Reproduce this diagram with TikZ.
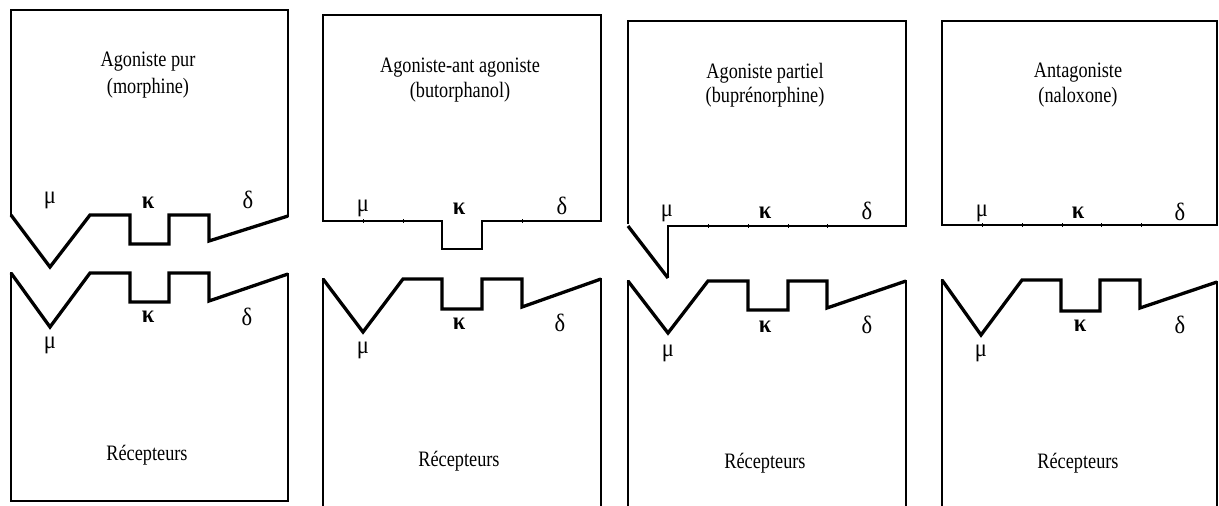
\documentclass[tikz,border=0pt]{standalone}
\usepackage{fontspec}
\setmainfont{Liberation Serif}
\usepackage{graphicx}
\newcommand{\condtxt}[1]{\scalebox{0.83}[1]{#1}}
\newcommand{\condgrk}[1]{\scalebox{0.9}[1]{#1}}
\tikzset{
  outl/.style={line width=1.8pt, line join=miter, line cap=rect},
  prof/.style={line width=3.3pt, line join=miter, line cap=butt},
  midl/.style={line width=2pt, line join=miter},
  tick/.style={line width=1pt},
  txt/.style={inner sep=0pt, font=\fontsize{22}{25}\selectfont},
  grk/.style={inner sep=0pt, font=\fontsize{25}{28}\selectfont},
  kap/.style={grk, font=\fontsize{25}{28}\selectfont\bfseries}
}
\begin{document}
\begin{tikzpicture}[x=1pt,y=-1pt]
\useasboundingbox (0,0) rectangle (1219,506);
% ---------------- Panel 1 : Agoniste pur ----------------
\draw[outl] (11,215) -- (11,10) -- (288,10) -- (288,216);
\draw[prof] (11,215) -- (50,267) -- (90,215) -- (130,215) -- (130,244) -- (169,244) -- (169,215) -- (209,215) -- (209,241) -- (288,216);
\node[txt] (t1a) at (148,62) {\condtxt{Agoniste pur}};
\node[txt] (t1b) at (148,88) {\condtxt{(morphine)}};
\node[grk] (m1t) at (50,200) {\condgrk{μ}};
\node[kap] (k1t) at (148,203) {\condgrk{κ}};
\node[grk] (d1t) at (248,200) {\condgrk{δ}};
\draw[prof] (11,273) -- (50,327) -- (90,273) -- (130,273) -- (130,302) -- (169,302) -- (169,273) -- (209,273) -- (209,301) -- (288,274);
\draw[outl] (11,273) -- (11,501) -- (288,501) -- (288,274);
\node[grk] (m1b) at (50,345) {\condgrk{μ}};
\node[kap] (k1b) at (148,317) {\condgrk{κ}};
\node[grk] (d1b) at (247,317) {\condgrk{δ}};
\node[txt] (r1) at (147,455) {\condtxt{Récepteurs}};
% ---------------- Panel 2 : Agoniste-ant agoniste ----------------
\draw[outl] (323,221) -- (323,15) -- (601,15) -- (601,221);
\draw[midl] (323,221) -- (442,221) -- (442,249) -- (482,249) -- (482,221) -- (601,221);
\foreach \x in {363,403,522} \draw[tick] (\x,219) -- (\x,223);
\node[txt] (t2a) at (460,68) {\condtxt{Agoniste-ant agoniste}};
\node[txt] (t2b) at (460,92) {\condtxt{(butorphanol)}};
\node[grk] (m2t) at (363,208) {\condgrk{μ}};
\node[kap] (k2t) at (459,209) {\condgrk{κ}};
\node[grk] (d2t) at (562,206) {\condgrk{δ}};
\draw[prof] (323,279) -- (363,332) -- (403,279) -- (442,279) -- (442,309) -- (482,309) -- (482,279) -- (522,279) -- (522,307) -- (601,279);
\draw[outl] (323,279) -- (323,508);
\draw[outl] (601,279) -- (601,508);
\node[grk] (m2b) at (363,350) {\condgrk{μ}};
\node[kap] (k2b) at (459,324) {\condgrk{κ}};
\node[grk] (d2b) at (560,323) {\condgrk{δ}};
\node[txt] (r2) at (459,461) {\condtxt{Récepteurs}};
% ---------------- Panel 3 : Agoniste partiel ----------------
\draw[outl] (628,223) -- (628,21) -- (906,21) -- (906,226);
\draw[prof] (628,226) -- (668,278);
\draw[midl] (668,278) -- (668,226) -- (906,226);
\foreach \x in {708,748,788,827} \draw[tick] (\x,224) -- (\x,228);
\node[txt] (t3a) at (765,73) {\condtxt{Agoniste partiel}};
\node[txt] (t3b) at (765,97) {\condtxt{(buprénorphine)}};
\node[grk] (m3t) at (667,213) {\condgrk{μ}};
\node[kap] (k3t) at (765,213) {\condgrk{κ}};
\node[grk] (d3t) at (867,211) {\condgrk{δ}};
\draw[prof] (628,281) -- (668,333) -- (708,281) -- (748,281) -- (748,310) -- (788,310) -- (788,281) -- (827,281) -- (827,308) -- (906,281);
\draw[outl] (628,281) -- (628,508);
\draw[outl] (906,281) -- (906,508);
\node[grk] (m3b) at (668,353) {\condgrk{μ}};
\node[kap] (k3b) at (765,327) {\condgrk{κ}};
\node[grk] (d3b) at (867,325) {\condgrk{δ}};
\node[txt] (r3) at (765,463) {\condtxt{Récepteurs}};
% ---------------- Panel 4 : Antagoniste ----------------
\draw[outl] (942,225) -- (942,21) -- (1217,21) -- (1217,225);
\draw[midl] (942,225) -- (1217,225);
\foreach \x in {982,1022,1062,1101,1141} \draw[tick] (\x,223) -- (\x,227);
\node[txt] (t4a) at (1078,73) {\condtxt{Antagoniste}};
\node[txt] (t4b) at (1078,97) {\condtxt{(naloxone)}};
\node[grk] (m4t) at (982,213) {\condgrk{μ}};
\node[kap] (k4t) at (1078,213) {\condgrk{κ}};
\node[grk] (d4t) at (1180,212) {\condgrk{δ}};
\draw[prof] (942,280) -- (981,335) -- (1022,280) -- (1061,280) -- (1061,311) -- (1100,311) -- (1100,280) -- (1140,280) -- (1140,308) -- (1217,282);
\draw[outl] (942,280) -- (942,508);
\draw[outl] (1217,282) -- (1217,508);
\node[grk] (m4b) at (981,353) {\condgrk{μ}};
\node[kap] (k4b) at (1080,326) {\condgrk{κ}};
\node[grk] (d4b) at (1180,325) {\condgrk{δ}};
\node[txt] (r4) at (1078,463) {\condtxt{Récepteurs}};
\end{tikzpicture}
\end{document}
